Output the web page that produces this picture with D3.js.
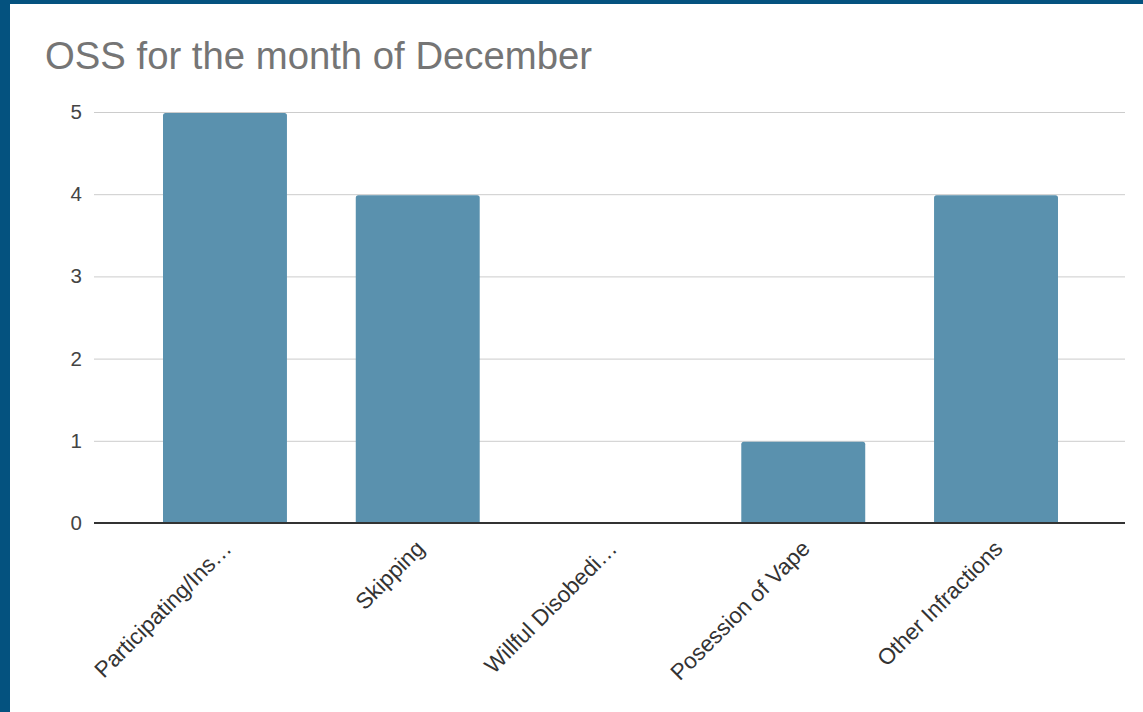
<!DOCTYPE html>
<html>
<head>
<meta charset="utf-8">
<script src="https://cdn.jsdelivr.net/npm/d3@7"></script>
<style>
  html, body { margin: 0; padding: 0; background: #ffffff; }
  svg { display: block; }
  text { font-family: "Liberation Sans", Arial, sans-serif; }
</style>
</head>
<body>
<svg id="chart" width="1143" height="712"></svg>
<script>
// Chart data
const categories = ["Participating/Ins\u2026", "Skipping", "Willful Disobedi\u2026", "Posession of Vape", "Other Infractions"];
const values = [5, 4, 0, 1, 4];
const yTicks = [0, 1, 2, 3, 4, 5];
const title = "OSS for the month of December";

const W = 1143, H = 712;
const plot = { left: 94, right: 1125, top: 112, bottom: 523 };

const svg = d3.select("#chart");

// page frame
svg.append("rect").attr("x", 0).attr("y", 0).attr("width", W).attr("height", H).attr("fill", "#ffffff");
svg.append("rect").attr("x", 0).attr("y", 0).attr("width", W).attr("height", 4).attr("fill", "#04527f");
svg.append("rect").attr("x", 0).attr("y", 0).attr("width", 10).attr("height", H).attr("fill", "#04527f");

// title
svg.append("text")
  .attr("x", 45).attr("y", 69)
  .attr("font-size", 38.3)
  .attr("fill", "#757575")
  .text(title);

const x = d3.scaleBand()
  .domain(categories)
  .range([128, 1093])
  .paddingInner(0.357)
  .paddingOuter(0.1816);

const y = d3.scaleLinear()
  .domain([0, 5])
  .range([plot.bottom, plot.top]);

// horizontal gridlines and y labels
const yAxis = d3.axisLeft(y)
  .tickValues(yTicks)
  .tickFormat(d3.format("d"))
  .tickSize(-(plot.right - plot.left))
  .tickPadding(12);

const gy = svg.append("g")
  .attr("transform", `translate(${plot.left},0)`)
  .call(yAxis);
gy.select(".domain").remove();
gy.selectAll(".tick line").attr("stroke", "#cccccc").attr("stroke-width", 1);
gy.selectAll(".tick text")
  .attr("font-size", 20.5)
  .attr("fill", "#444444")
  .attr("font-family", "'Liberation Sans', Arial, sans-serif");

// bars with slightly rounded top corners
function barPath(x0, y0, w, h, r) {
  r = Math.min(r, h, w / 2);
  if (h <= 0) return "";
  return `M${x0},${y0 + h}` +
    `V${y0 + r}` +
    `Q${x0},${y0} ${x0 + r},${y0}` +
    `H${x0 + w - r}` +
    `Q${x0 + w},${y0} ${x0 + w},${y0 + r}` +
    `V${y0 + h}Z`;
}

svg.append("g")
  .selectAll("path")
  .data(categories.map((c, i) => ({ c, v: values[i] })))
  .join("path")
  .attr("d", d => barPath(x(d.c), y(d.v) + 1, x.bandwidth(), y(0) - y(d.v) - 1, 2.5))
  .attr("fill", "#5a91ae");

// baseline
svg.append("line")
  .attr("x1", plot.left).attr("x2", plot.right)
  .attr("y1", y(0)).attr("y2", y(0))
  .attr("stroke", "#333333")
  .attr("stroke-width", 2);

// rotated category labels
const xAxis = d3.axisBottom(x).tickSize(0).tickPadding(0);
const gx = svg.append("g")
  .attr("transform", `translate(0,${plot.bottom})`)
  .call(xAxis);
gx.select(".domain").remove();
gx.selectAll(".tick text")
  .attr("font-size", 22.5)
  .attr("fill", "#333333")
  .attr("font-family", "'Liberation Sans', Arial, sans-serif")
  .attr("text-anchor", "end")
  .attr("dy", null)
  .attr("y", 0)
  .attr("transform", "translate(8,27) rotate(-45)");
</script>
</body>
</html>
